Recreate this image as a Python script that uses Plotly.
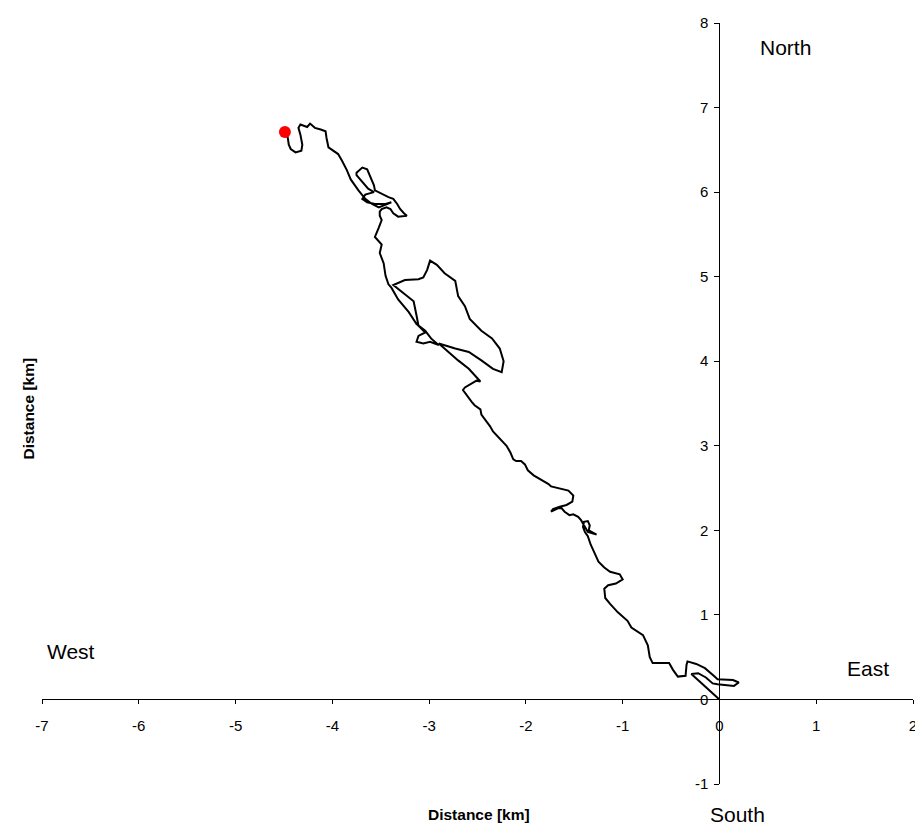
import plotly.graph_objects as go

# GPS track, km east (x) / km north (y) from the start point
track_east = [
    0.00, -0.15, -0.24, -0.29, -0.22, -0.14, -0.07, -0.02, 0.15, 0.20,
    0.14, -0.02, -0.05, -0.15, -0.24, -0.33, -0.34, -0.35, -0.43, -0.48,
    -0.52, -0.69, -0.72, -0.74, -0.79, -0.91, -0.95, -1.05, -1.13, -1.18,
    -1.19, -1.15, -1.07, -1.00, -1.03, -1.13, -1.19, -1.25, -1.29, -1.33,
    -1.36, -1.39, -1.41, -1.40, -1.36, -1.34, -1.35, -1.27, -1.36, -1.39,
    -1.43, -1.46, -1.51, -1.55, -1.60, -1.63, -1.67, -1.74, -1.72, -1.65,
    -1.58, -1.52, -1.51, -1.56, -1.67, -1.74, -1.77, -1.84, -1.92, -1.98,
    -2.01, -2.05, -2.10, -2.13, -2.16, -2.20, -2.27, -2.34, -2.37, -2.41,
    -2.46, -2.47, -2.53, -2.56, -2.61, -2.65, -2.63, -2.56, -2.51, -2.47,
    -2.53, -2.59, -2.70, -2.80, -2.90, -2.73, -2.59, -2.46, -2.34, -2.25,
    -2.23, -2.27, -2.35, -2.46, -2.58, -2.63, -2.70, -2.73, -2.84, -2.92,
    -2.99, -3.02, -3.06, -3.11, -3.25, -3.37, -3.16, -3.13, -3.11, -3.04,
    -3.11, -3.13, -3.06, -2.99, -2.90, -2.98, -3.04, -3.13, -3.21, -3.32,
    -3.39, -3.42, -3.45, -3.47, -3.51, -3.49, -3.56, -3.52, -3.49, -3.51,
    -3.51, -3.49, -3.44, -3.40, -3.37, -3.32, -3.23, -3.26, -3.30, -3.33,
    -3.37, -3.42, -3.49, -3.56, -3.57, -3.61, -3.64, -3.69, -3.75, -3.75,
    -3.69, -3.63, -3.57, -3.66, -3.69, -3.64, -3.56, -3.45, -3.39, -3.45,
    -3.52, -3.59, -3.66, -3.73, -3.81, -3.85, -3.87, -3.90, -3.94, -3.99,
    -4.04, -4.06, -4.07, -4.12, -4.18, -4.23, -4.26, -4.33, -4.35, -4.33,
    -4.31, -4.32, -4.38, -4.43, -4.45, -4.46, -4.48, -4.49,
]
track_north = [
    0.00, 0.15, 0.25, 0.30, 0.31, 0.26, 0.19, 0.18, 0.16, 0.20,
    0.23, 0.24, 0.27, 0.37, 0.42, 0.45, 0.41, 0.28, 0.27, 0.35,
    0.43, 0.43, 0.50, 0.64, 0.76, 0.85, 0.93, 1.03, 1.13, 1.20,
    1.31, 1.35, 1.37, 1.42, 1.48, 1.51, 1.56, 1.63, 1.73, 1.83,
    1.93, 1.98, 2.04, 2.10, 2.11, 2.06, 2.00, 1.95, 1.98, 2.04,
    2.12, 2.16, 2.19, 2.18, 2.22, 2.26, 2.26, 2.22, 2.25, 2.28,
    2.30, 2.34, 2.41, 2.47, 2.50, 2.52, 2.55, 2.60, 2.65, 2.71,
    2.78, 2.82, 2.82, 2.84, 2.92, 3.00, 3.08, 3.17, 3.23, 3.29,
    3.37, 3.43, 3.48, 3.52, 3.60, 3.66, 3.69, 3.74, 3.77, 3.76,
    3.84, 3.91, 4.01, 4.11, 4.21, 4.15, 4.11, 4.01, 3.91, 3.87,
    4.00, 4.15, 4.27, 4.36, 4.50, 4.65, 4.77, 4.95, 5.04, 5.14,
    5.19, 5.08, 4.99, 4.97, 4.96, 4.90, 4.71, 4.54, 4.42, 4.34,
    4.30, 4.23, 4.21, 4.23, 4.19, 4.27, 4.36, 4.44, 4.58, 4.73,
    4.87, 4.91, 5.01, 5.16, 5.28, 5.38, 5.47, 5.58, 5.67, 5.72,
    5.77, 5.80, 5.82, 5.80, 5.75, 5.71, 5.72, 5.75, 5.80, 5.86,
    5.92, 5.94, 5.98, 6.02, 6.08, 6.20, 6.27, 6.29, 6.23, 6.20,
    6.12, 6.04, 6.00, 5.97, 5.92, 5.88, 5.86, 5.86, 5.88, 5.85,
    5.82, 5.86, 5.92, 6.02, 6.15, 6.26, 6.31, 6.37, 6.45, 6.49,
    6.53, 6.64, 6.72, 6.74, 6.76, 6.81, 6.77, 6.80, 6.76, 6.68,
    6.56, 6.49, 6.47, 6.51, 6.56, 6.64, 6.68, 6.71,
]

# current position (red dot)
current_east = [-4.49]
current_north = [6.71]

x_ticks = [-7, -6, -5, -4, -3, -2, -1, 0, 1, 2]
y_ticks = [-1, 0, 1, 2, 3, 4, 5, 6, 7, 8]

FONT = "Liberation Sans, Arial, sans-serif"

fig = go.Figure()

fig.add_trace(go.Scatter(
    x=track_east,
    y=track_north,
    mode="lines",
    line=dict(color="black", width=2),
    showlegend=False,
    hoverinfo="skip",
))

fig.add_trace(go.Scatter(
    x=current_east,
    y=current_north,
    mode="markers",
    marker=dict(color="#ff0000", size=12),
    showlegend=False,
))

axis_common = dict(
    showgrid=False,
    zeroline=False,
    showline=True,
    linecolor="black",
    linewidth=1,
    ticks="outside",
    tickcolor="black",
    tickfont=dict(family=FONT, size=15, color="black"),
    ticklabeloverflow="allow",
    anchor="free",
)

fig.update_xaxes(
    range=[-7, 2],
    tickvals=x_ticks,
    ticktext=[str(v) for v in x_ticks],
    ticklen=4,
    ticklabelstandoff=9,
    position=1 / 9,  # x-axis crosses at north = 0
    **axis_common,
)
fig.update_yaxes(
    range=[-1, 8],
    tickvals=y_ticks,
    ticktext=[str(v) for v in y_ticks],
    ticklen=5,
    ticklabelstandoff=3,
    position=7 / 9,  # y-axis crosses at east = 0
    **axis_common,
)

labels = [
    ("North", 0.8225, 0.9675),
    ("West", 0.0034, 0.174),
    ("East", 0.922, 0.1523),
    ("South", 0.7645, -0.04),
]
annotations = [
    dict(text=t, x=x, y=y, xref="paper", yref="paper", xanchor="left",
         yanchor="middle", showarrow=False,
         font=dict(family=FONT, size=21, color="black"))
    for t, x, y in labels
]
annotations.append(dict(
    text="<b>Distance [km]</b>", x=0.5017, y=-0.04, xref="paper", yref="paper",
    xanchor="center", yanchor="middle", showarrow=False,
    font=dict(family=FONT, size=15.5, color="black"),
))
annotations.append(dict(
    text="<b>Distance [km]</b>", x=-0.016, y=0.4935, xref="paper", yref="paper",
    xanchor="center", yanchor="middle", showarrow=False, textangle=-90,
    font=dict(family=FONT, size=15.5, color="black"),
))

# page body adds an 8px offset, so the figure is sized to fit the window
fig.update_layout(
    width=915,
    height=822,
    margin=dict(l=34, r=8, t=6, b=46),
    paper_bgcolor="white",
    plot_bgcolor="white",
    annotations=annotations,
)

fig.write_html("out.html")
